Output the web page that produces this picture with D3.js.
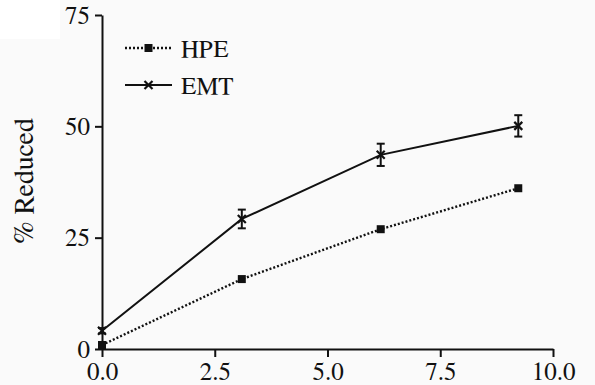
<!DOCTYPE html>
<html>
<head>
<meta charset="utf-8">
<script src="https://cdn.jsdelivr.net/npm/d3@7"></script>
<style>
  html, body { margin: 0; padding: 0; background: #fafafa; }
  svg { display: block; }
</style>
</head>
<body>
<div id="chart"></div>
<script>
// time points (x) and series values
const xValues = [0, 3.1, 6.18, 9.23];
const hpeValues = [0.9, 15.7, 26.9, 36.1];
const emtValues = [4.1, 29.2, 43.6, 50.1];
const emtErrors = [0.6, 2.1, 2.5, 2.4];
const hpeErrors = [0.6, 0, 0, 0];
const xTicks = [0, 2.5, 5, 7.5, 10];
const yTicks = [0, 25, 50, 75];
const seriesNames = ['HPE', 'EMT'];

const width = 595;
const height = 385;
const margin = { top: 15, right: 42, bottom: 36, left: 102 };
const font = 'FreeSerif, "Liberation Serif", "Times New Roman", serif';

const svg = d3.select('#chart').append('svg')
              .attr('width', width)
              .attr('height', height);

svg.append('rect')
   .attr('width', width).attr('height', height)
   .attr('fill', '#fafafa');
// white patch at top-left of the scan
svg.append('rect')
   .attr('width', 60).attr('height', 39)
   .attr('fill', '#ffffff');

const x = d3.scaleLinear()
            .domain([0, 10])
            .range([margin.left, width - margin.right]);
const y = d3.scaleLinear()
            .domain([0, 75])
            .range([height - margin.bottom, margin.top]);

const xAxis = g => {
	g.attr('transform', `translate(0, ${y(0)})`)
	 .call(d3.axisBottom(x).tickValues(xTicks).tickFormat(d3.format('.1f')).tickSize(8).tickSizeOuter(0))
	g.selectAll('path, line').attr('stroke', '#111').attr('stroke-width', 2)
	g.selectAll('text')
	 .attr('font-family', font)
	 .attr('font-size', 25)
	 .attr('fill', '#111')
	 .attr('dy', '0.71em')
	 .attr('y', 13)
	return g
}

const yAxis = g => {
	g.attr('transform', `translate(${x(0)}, 0)`)
	 .call(d3.axisLeft(y).tickValues(yTicks).tickSize(7).tickSizeOuter(0))
	g.selectAll('path, line').attr('stroke', '#111').attr('stroke-width', 2)
	g.selectAll('text')
	 .attr('font-family', font)
	 .attr('font-size', 25)
	 .attr('fill', '#111')
	 .attr('x', -12)
	return g
}

svg.append('g').call(xAxis);
svg.append('g').call(yAxis);

// y-axis title
svg.append('text')
   .attr('transform', `translate(33, ${(y(0) + y(75)) / 2 - 1}) rotate(-90)`)
   .attr('text-anchor', 'middle')
   .attr('font-family', font)
   .attr('font-size', 28)
   .attr('fill', '#111')
   .text('% Reduced');

const hpe = xValues.map((d, i) => ({ x: d, y: hpeValues[i], e: hpeErrors[i] }));
const emt = xValues.map((d, i) => ({ x: d, y: emtValues[i], e: emtErrors[i] }));

const line = d3.line()
               .x(d => x(d.x))
               .y(d => y(d.y));

// error bars
const drawErrors = (data, cls) => {
	const g = svg.append('g').attr('class', cls)
	             .attr('stroke', '#111').attr('stroke-width', 2);
	data.filter(d => d.e > 0).forEach(d => {
		g.append('line')
		 .attr('x1', x(d.x)).attr('x2', x(d.x))
		 .attr('y1', y(d.y - d.e)).attr('y2', y(d.y + d.e));
		[d.y - d.e, d.y + d.e].forEach(v => {
			g.append('line')
			 .attr('x1', x(d.x) - 4).attr('x2', x(d.x) + 4)
			 .attr('y1', y(v)).attr('y2', y(v));
		});
	});
}
drawErrors(emt, 'emt-err');
drawErrors(hpe, 'hpe-err');

svg.append('path')
   .datum(hpe)
   .attr('d', line)
   .attr('fill', 'none')
   .attr('stroke', '#111')
   .attr('stroke-width', 2.4)
   .attr('stroke-dasharray', '2,2');

svg.append('path')
   .datum(emt)
   .attr('d', line)
   .attr('fill', 'none')
   .attr('stroke', '#111')
   .attr('stroke-width', 2);

// markers
const square = (g, cx, cy) => {
	g.append('rect')
	 .attr('x', cx - 4).attr('y', cy - 4)
	 .attr('width', 8).attr('height', 8)
	 .attr('fill', '#111');
}
const cross = (g, cx, cy) => {
	g.append('path')
	 .attr('d', `M${cx - 4},${cy - 4}L${cx + 4},${cy + 4}M${cx + 4},${cy - 4}L${cx - 4},${cy + 4}`)
	 .attr('stroke', '#111')
	 .attr('stroke-width', 2.2);
}

const marks = svg.append('g');
hpe.forEach(d => square(marks, x(d.x), y(d.y)));
emt.forEach(d => cross(marks, x(d.x), y(d.y)));

// legend
const legend = svg.append('g').attr('transform', 'translate(125, 48)');
seriesNames.forEach((name, i) => {
	const row = legend.append('g').attr('transform', `translate(0, ${i * 37})`);
	row.append('line')
	   .attr('x1', 0).attr('x2', 47)
	   .attr('y1', 0).attr('y2', 0)
	   .attr('stroke', '#111')
	   .attr('stroke-width', i === 0 ? 2.4 : 2)
	   .attr('stroke-dasharray', i === 0 ? '2,2' : null);
	if (i === 0) square(row, 23.5, 0);
	else cross(row, 23.5, 0);
	row.append('text')
	   .attr('x', 56)
	   .attr('y', 0)
	   .attr('dy', '0.35em')
	   .attr('font-family', font)
	   .attr('font-size', 25)
	   .attr('fill', '#111')
	   .text(name);
});
</script>
</body>
</html>
